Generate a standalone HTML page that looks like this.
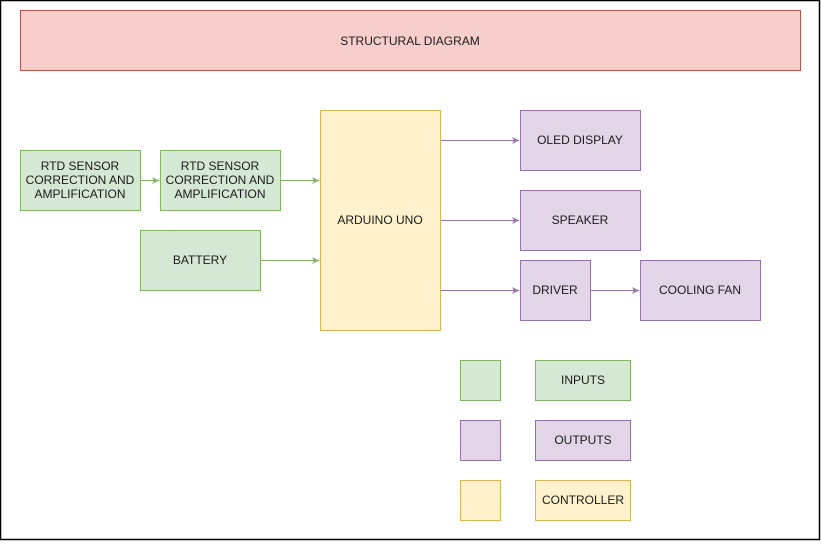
<!DOCTYPE html>
<html><head><meta charset="utf-8"><style>
html,body{margin:0;padding:0;background:#fff;}
body{width:821px;height:541px;overflow:hidden;}
</style></head><body>
<svg width="821" height="541" viewBox="0 0 821 541" xmlns="http://www.w3.org/2000/svg" font-family="Liberation Sans, Arial, sans-serif" font-size="12" fill="#000">
<rect x="0" y="0" width="821" height="541" fill="#fff"/>
<rect x="0.5" y="0.5" width="819" height="539" fill="none" stroke="#000" stroke-width="1.5"/>
<defs>
<marker id="ag" markerWidth="8" markerHeight="8" refX="7" refY="4" orient="auto" markerUnits="userSpaceOnUse"><path d="M0,0.5 L7,4 L0,7.5 L2,4 Z" fill="#82b366"/></marker>
<marker id="ap" markerWidth="8" markerHeight="8" refX="7" refY="4" orient="auto" markerUnits="userSpaceOnUse"><path d="M0,0.5 L7,4 L0,7.5 L2,4 Z" fill="#9673a6"/></marker>
</defs>
<g stroke-width="1">
<rect x="20.5" y="10.5" width="780" height="60" fill="#f8cecc" stroke="#b85450"/>
<rect x="20.5" y="150.5" width="120" height="60" fill="#d5e8d4" stroke="#82b366"/>
<rect x="160.5" y="150.5" width="120" height="60" fill="#d5e8d4" stroke="#82b366"/>
<rect x="140.5" y="230.5" width="120" height="60" fill="#d5e8d4" stroke="#82b366"/>
<rect x="320.5" y="110.5" width="120" height="220" fill="#fff2cc" stroke="#d6b656"/>
<rect x="520.5" y="110.5" width="120" height="60" fill="#e1d5e7" stroke="#9673a6"/>
<rect x="520.5" y="190.5" width="120" height="60" fill="#e1d5e7" stroke="#9673a6"/>
<rect x="520.5" y="260.5" width="70" height="60" fill="#e1d5e7" stroke="#9673a6"/>
<rect x="640.5" y="260.5" width="120" height="60" fill="#e1d5e7" stroke="#9673a6"/>
<rect x="460.5" y="360.5" width="40" height="40" fill="#d5e8d4" stroke="#82b366"/>
<rect x="460.5" y="420.5" width="40" height="40" fill="#e1d5e7" stroke="#9673a6"/>
<rect x="460.5" y="480.5" width="40" height="40" fill="#fff2cc" stroke="#d6b656"/>
<rect x="535.5" y="360.5" width="95" height="40" fill="#d5e8d4" stroke="#82b366"/>
<rect x="535.5" y="420.5" width="95" height="40" fill="#e1d5e7" stroke="#9673a6"/>
<rect x="535.5" y="480.5" width="95" height="40" fill="#fff2cc" stroke="#d6b656"/>
</g>
<g stroke-width="1" fill="none">
<line x1="141" y1="180.5" x2="159" y2="180.5" stroke="#82b366" marker-end="url(#ag)"/>
<line x1="281" y1="180.5" x2="319" y2="180.5" stroke="#82b366" marker-end="url(#ag)"/>
<line x1="261" y1="260.5" x2="319" y2="260.5" stroke="#82b366" marker-end="url(#ag)"/>
<line x1="441" y1="140.5" x2="519" y2="140.5" stroke="#9673a6" marker-end="url(#ap)"/>
<line x1="441" y1="220.5" x2="519" y2="220.5" stroke="#9673a6" marker-end="url(#ap)"/>
<line x1="441" y1="290.5" x2="519" y2="290.5" stroke="#9673a6" marker-end="url(#ap)"/>
<line x1="591" y1="290.5" x2="639" y2="290.5" stroke="#9673a6" marker-end="url(#ap)"/>
</g>
<g text-anchor="middle" fill="#1a1a1a">
<text x="410" y="45">STRUCTURAL DIAGRAM</text>
<text x="80" y="170">RTD SENSOR</text>
<text x="80" y="184">CORRECTION AND</text>
<text x="80" y="198">AMPLIFICATION</text>
<text x="220" y="170">RTD SENSOR</text>
<text x="220" y="184">CORRECTION AND</text>
<text x="220" y="198">AMPLIFICATION</text>
<text x="200" y="264">BATTERY</text>
<text x="380" y="224">ARDUINO UNO</text>
<text x="580" y="144">OLED DISPLAY</text>
<text x="580" y="224">SPEAKER</text>
<text x="555" y="294">DRIVER</text>
<text x="700" y="294">COOLING FAN</text>
<text x="583" y="384">INPUTS</text>
<text x="583" y="444">OUTPUTS</text>
<text x="583" y="504">CONTROLLER</text>
</g>
</svg>
</body></html>
